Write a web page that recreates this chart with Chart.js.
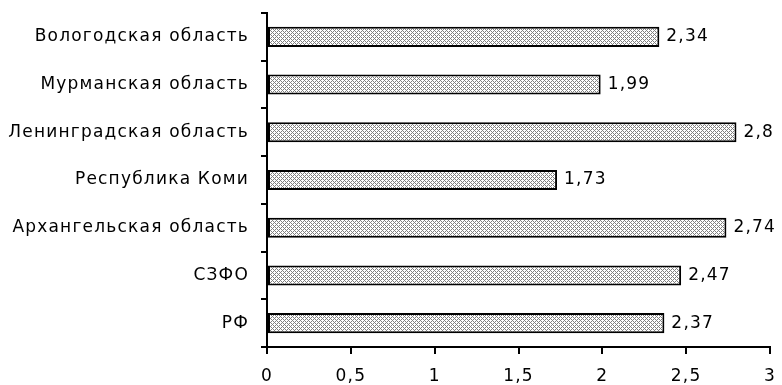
<!DOCTYPE html>
<html>
<head>
<meta charset="utf-8">
<script src="https://cdn.jsdelivr.net/npm/chart.js@4"></script>
<style>
  html, body { margin: 0; padding: 0; background: #fff; }
  #wrap { width: 782px; height: 385px; }
</style>
</head>
<body>
<div id="wrap"><canvas id="chart" width="782" height="385"></canvas></div>
<script>
const regions = ['Вологодская область', 'Мурманская область', 'Ленинградская область',
  'Республика Коми', 'Архангельская область', 'СЗФО', 'РФ'];
const values = [2.34, 1.99, 2.8, 1.73, 2.74, 2.47, 2.37];
const FONT = '"DejaVu Sans", Verdana, sans-serif';
const SPACING = '1.2px';

// crosshatch fill like the old office pattern
function hatch() {
  const c = document.createElement('canvas');
  c.width = 4; c.height = 4;
  const g = c.getContext('2d');
  g.fillStyle = '#ffffff';
  g.fillRect(0, 0, 4, 4);
  g.fillStyle = '#808080';
  [[0, 0], [2, 2], [1, 1], [3, 3], [3, 1], [1, 3]].forEach(([x, y]) => g.fillRect(x, y, 1, 1));
  return g.createPattern(c, 'repeat');
}

const spacing = {
  id: 'spacing',
  beforeInit(chart) { chart.ctx.letterSpacing = SPACING; },
  beforeDraw(chart) { chart.ctx.letterSpacing = SPACING; }
};

const valueLabels = {
  id: 'valueLabels',
  afterDatasetsDraw(chart) {
    const ctx = chart.ctx;
    const meta = chart.getDatasetMeta(0);
    ctx.save();
    ctx.letterSpacing = SPACING;
    ctx.font = '17px ' + FONT;
    ctx.fillStyle = '#000';
    ctx.textBaseline = 'middle';
    meta.data.forEach((bar, i) => {
      ctx.fillText(String(values[i]).replace('.', ','), bar.x + 7, bar.y);
    });
    ctx.restore();
  }
};

new Chart(document.getElementById('chart'), {
  type: 'bar',
  data: {
    labels: regions,
    datasets: [{
      data: values,
      backgroundColor: hatch(),
      borderColor: '#000',
      borderWidth: 2,
      borderSkipped: false,
      categoryPercentage: 0.42,
      barPercentage: 1
    }]
  },
  options: {
    indexAxis: 'y',
    responsive: false,
    animation: false,
    layout: { padding: { top: 13, right: 12, left: 0, bottom: 0 } },
    plugins: { legend: { display: false }, tooltip: { enabled: false } },
    scales: {
      x: {
        min: 0, max: 3,
        afterFit(s) { s.height = 38; s.paddingLeft = 0; s.paddingRight = 0; },
        ticks: {
          stepSize: 0.5, color: '#000', font: { family: FONT, size: 17 }, padding: 12,
          callback: v => String(v).replace('.', ',')
        },
        grid: { drawOnChartArea: false, color: '#000', tickLength: 7, lineWidth: 2 },
        border: { color: '#000', width: 2 }
      },
      y: {
        afterFit(s) { s.width = 267; s.paddingTop = 0; s.paddingBottom = 0; },
        ticks: { color: '#000', font: { family: FONT, size: 17 }, padding: 12 },
        grid: { drawOnChartArea: false, color: '#000', tickLength: 6, lineWidth: 2, offset: true },
        border: { color: '#000', width: 2 }
      }
    }
  },
  plugins: [spacing, valueLabels]
});
</script>
</body>
</html>
